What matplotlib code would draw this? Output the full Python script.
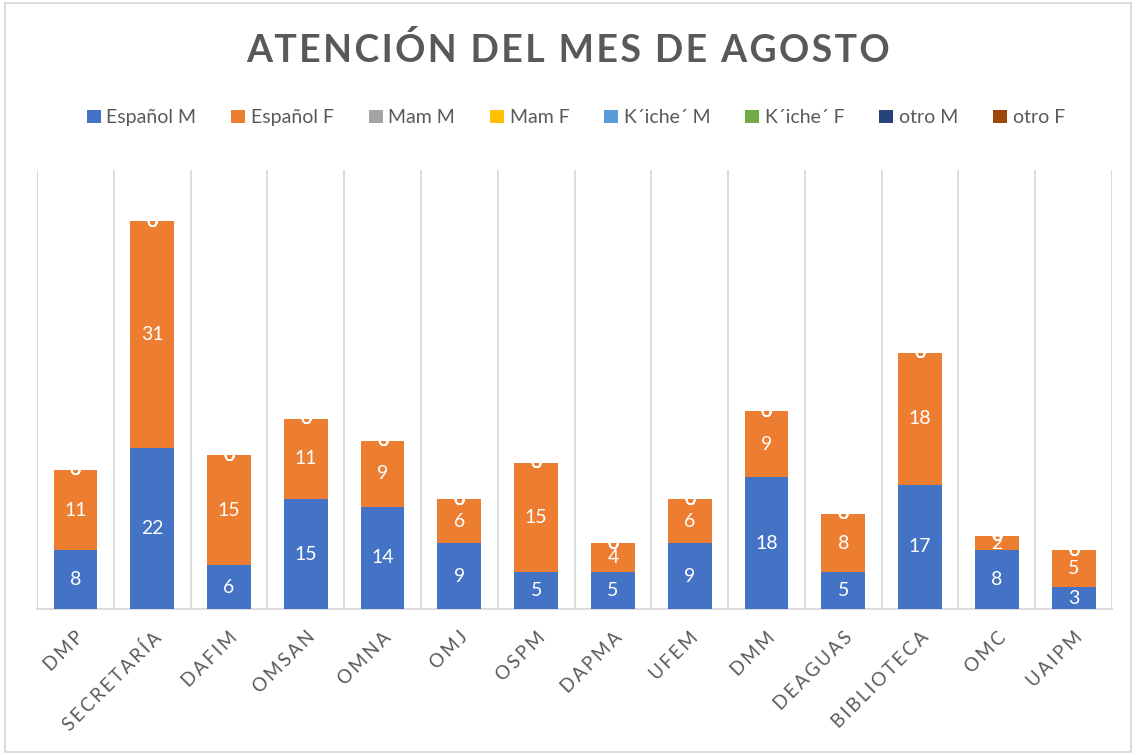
import matplotlib.pyplot as plt
from matplotlib.patches import Rectangle
import numpy as np

# Data
categories = ["DMP", "SECRETARÍA", "DAFIM", "OMSAN", "OMNA", "OMJ", "OSPM",
              "DAPMA", "UFEM", "DMM", "DEAGUAS", "BIBLIOTECA", "OMC", "UAIPM"]
series_names = ["Español M", "Español F", "Mam M", "Mam F",
                "K´iche´ M", "K´iche´ F", "otro M", "otro F"]
espanol_m = [8, 22, 6, 15, 14, 9, 5, 5, 9, 18, 5, 17, 8, 3]
espanol_f = [11, 31, 15, 11, 9, 6, 15, 4, 6, 9, 8, 18, 2, 5]
mam_m = [0] * 14
mam_f = [0] * 14
kiche_m = [0] * 14
kiche_f = [0] * 14
otro_m = [0] * 14
otro_f = [0] * 14

series_values = [espanol_m, espanol_f, mam_m, mam_f, kiche_m, kiche_f, otro_m, otro_f]
colors = ["#4472C4", "#ED7D31", "#A5A5A5", "#FFC000",
          "#5B9BD5", "#70AD47", "#264478", "#9E480E"]

plt.rcParams['font.family'] = ['Lato', 'DejaVu Sans']
text_gray = "#595959"
grid_gray = "#D9D9D9"

fig = plt.figure(figsize=(11.36, 7.55), dpi=100)
ax = fig.add_axes([0.0326, 0.1934, 0.9463, 0.5815])

x = np.arange(len(categories))
bottom = np.zeros(len(categories))
for name, vals, col in zip(series_names, series_values, colors):
    bars = ax.bar(x, vals, width=0.57, bottom=bottom, color=col, label=name, zorder=3)
    ax.bar_label(bars, labels=[str(v) for v in vals], label_type='center',
                 color='white', fontsize=14, zorder=4)
    bottom += np.array(vals)

ax.set_xlim(-0.5, len(categories) - 0.5)
ax.set_ylim(0, 60)
ax.set_yticks([])

# vertical separators between categories
for b in np.arange(-0.5, len(categories), 1.0):
    ax.axvline(b, color=grid_gray, lw=1.3, zorder=1)

for s in ["top", "left", "right"]:
    ax.spines[s].set_visible(False)
ax.spines["bottom"].set_color(grid_gray)
ax.spines["bottom"].set_linewidth(1.3)

# letter-spaced tick labels, like the original
ax.set_xticks(x)
ax.set_xticklabels(["\u2009".join(c) for c in categories], rotation=45,
                   ha='right', va='top', rotation_mode='anchor',
                   fontsize=13.5, color=text_gray)
ax.tick_params(axis='x', length=0, pad=14)

fig.text(0.5, 0.934, "\u200a".join("ATENCIÓN DEL MES DE AGOSTO"), ha='center', va='center',
         fontsize=27, fontweight='bold', color=text_gray)

leg = fig.legend(loc='center', bbox_to_anchor=(0.507, 0.844), ncol=8, frameon=False,
                 fontsize=14, handlelength=0.7, handleheight=0.7, handletextpad=0.3,
                 columnspacing=1.8)
for t in leg.get_texts():
    t.set_color(text_gray)

fig.patches.append(Rectangle((0.004, 0.004), 0.992, 0.992, transform=fig.transFigure,
                             fill=False, edgecolor=grid_gray, lw=1.3))

fig.savefig("out.png", dpi=100)
